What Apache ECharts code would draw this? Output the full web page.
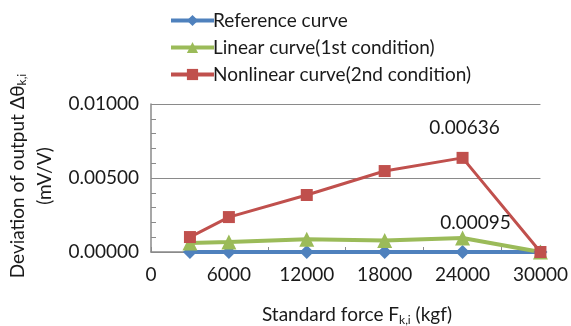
<!DOCTYPE html>
<html>
<head>
<meta charset="utf-8">
<script src="https://cdn.jsdelivr.net/npm/echarts@6/dist/echarts.min.js"></script>
<style>
  html, body { margin: 0; padding: 0; background: #fff; }
  #chart { width: 571px; height: 326px; }
</style>
</head>
<body>
<div id="chart"></div>
<script>
// Standard force steps (kgf)
const forces = [3000, 6000, 12000, 18000, 24000, 30000];
// Output deviation (mV/V) for each curve
const referenceCurve = [0, 0, 0, 0, 0, 0];
const linearCurve = [0.00061, 0.00068, 0.00086, 0.00077, 0.00095, 0];
const nonlinearCurve = [0.00101, 0.00236, 0.00385, 0.00547, 0.00636, 0];
// Points whose values are printed next to them
const labelledLinear = 4;
const labelledNonlinear = 4;

const seriesNames = [
  'Reference curve',
  'Linear curve(1st condition)',
  'Nonlinear curve(2nd condition)'
];

const FONT = 'Lato, "Open Sans", sans-serif';
const FS = 19;
const TEXT = '#1a1a1a';
const AXIS = '#8a8a8a';

function pairs(values, labelIndex, labelOffset) {
  return values.map((v, i) => {
    const item = { value: [forces[i], v] };
    if (i === labelIndex) {
      item.label = {
        show: true,
        position: 'top',
        offset: labelOffset,
        formatter: () => v.toFixed(5),
        fontFamily: FONT,
        fontSize: FS,
        color: TEXT
      };
    }
    return item;
  });
}

const chart = echarts.init(document.getElementById('chart'), null, { renderer: 'canvas' });

chart.setOption({
  animation: false,
  backgroundColor: '#ffffff',
  grid: { left: 151, right: 29, top: 104, bottom: 74 },
  legend: {
    orient: 'vertical',
    left: 164,
    top: 5,
    itemWidth: 43,
    itemHeight: 14,
    itemGap: 6,
    lineStyle: { width: 4 },
    textStyle: { fontFamily: FONT, fontSize: FS, lineHeight: 21, color: TEXT, padding: [0, 0, 0, -6] },
    data: seriesNames
  },
  xAxis: {
    type: 'value',
    min: 0,
    max: 30000,
    interval: 6000,
    axisLine: { show: true, lineStyle: { color: AXIS, width: 1.5 } },
    axisTick: { show: true, inside: true, length: 5, lineStyle: { color: AXIS } },
    minorTick: { show: true, splitNumber: 2, length: 5, lineStyle: { color: AXIS } },
    splitLine: { show: false },
    axisLabel: {
      fontFamily: FONT, fontSize: FS, color: TEXT, margin: 13,
      formatter: v => String(v)
    }
  },
  yAxis: {
    type: 'value',
    min: 0,
    max: 0.01,
    interval: 0.005,
    axisLine: { show: true, lineStyle: { color: AXIS, width: 1.5 } },
    axisTick: { show: true, inside: true, length: 5, lineStyle: { color: AXIS } },
    minorTick: { show: true, splitNumber: 5, length: 5, lineStyle: { color: AXIS } },
    splitLine: { show: true, lineStyle: { color: AXIS, width: 1 } },
    axisLabel: {
      fontFamily: FONT, fontSize: FS, color: TEXT, margin: 12,
      formatter: v => v.toFixed(5)
    }
  },
  graphic: [
    {
      type: 'text',
      x: 357,
      y: 315,
      style: {
        x: 0, y: 0,
        text: 'Standard force F{sub|k,i} (kgf)',
        fontFamily: FONT, fontSize: FS, fill: TEXT,
        align: 'center', verticalAlign: 'middle',
        rich: { sub: { fontFamily: FONT, fontSize: 12, fill: TEXT, padding: [10, 0, 0, 0] } }
      }
    },
    {
      type: 'text',
      x: 31,
      y: 176,
      rotation: Math.PI / 2,
      style: {
        x: 0, y: 0,
        text: 'Deviation of output \u0394\u03b8{sub|k,i}\n(mV/V)',
        fontFamily: FONT, fontSize: FS, fill: TEXT, lineHeight: 27,
        align: 'center', verticalAlign: 'middle',
        rich: { sub: { fontFamily: FONT, fontSize: 12, fill: TEXT, padding: [10, 0, 0, 0] } }
      }
    }
  ],
  series: [
    {
      name: seriesNames[0],
      type: 'line',
      data: pairs(referenceCurve, -1),
      symbol: 'diamond',
      symbolSize: 14,
      color: '#4f81bd',
      lineStyle: { width: 4 }
    },
    {
      name: seriesNames[1],
      type: 'line',
      data: pairs(linearCurve, labelledLinear, [13, 7]),
      symbol: 'triangle',
      symbolSize: 15,
      color: '#9bbb59',
      lineStyle: { width: 4 }
    },
    {
      name: seriesNames[2],
      type: 'line',
      data: pairs(nonlinearCurve, labelledNonlinear, [2, -9]),
      symbol: 'rect',
      symbolSize: 12,
      color: '#c0504d',
      lineStyle: { width: 3 }
    }
  ]
});
</script>
</body>
</html>
